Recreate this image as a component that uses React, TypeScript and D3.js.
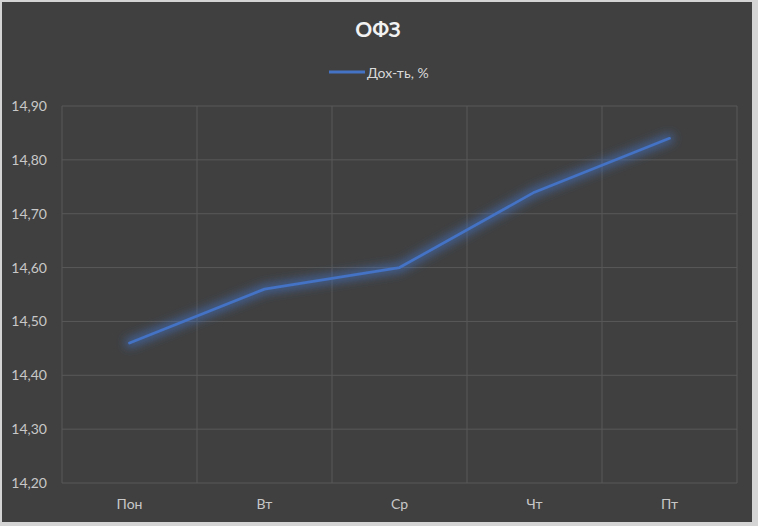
import React from "react";
import * as d3 from "d3";

const categories = ["Пон", "Вт", "Ср", "Чт", "Пт"];
const values = [14.46, 14.56, 14.6, 14.74, 14.84];
const yTicks = [14.2, 14.3, 14.4, 14.5, 14.6, 14.7, 14.8, 14.9];
const title = "ОФЗ";
const seriesName = "Дох-ть, %";

const W = 758;
const H = 526;
const plot = { left: 62, right: 737, top: 106, bottom: 483 };
const font = "Lato, 'Open Sans', sans-serif";

export default function App() {
  const x = d3
    .scaleBand<string>()
    .domain(categories)
    .range([plot.left, plot.right])
    .padding(0);
  const y = d3.scaleLinear().domain([14.2, 14.9]).range([plot.bottom, plot.top]);
  const line = d3
    .line<number>()
    .x((_, i) => (x(categories[i]) as number) + x.bandwidth() / 2)
    .y((d) => y(d));
  const fmt = (v: number) => v.toFixed(2).replace(".", ",");
  const bounds = categories.map((c) => x(c) as number).concat([plot.right]);

  return (
    <svg
      width={W}
      height={H}
      style={{ position: "absolute", left: 0, top: 0, display: "block" }}
    >
      <defs>
        <filter id="glow" x="-20%" y="-50%" width="140%" height="200%">
          <feGaussianBlur stdDeviation="5" />
        </filter>
      </defs>
      <rect x={0} y={0} width={W} height={H} fill="#d4d4d4" />
      <rect x={2} y={2} width={750} height={520} fill="#404040" />
      <text
        x={378}
        y={37}
        textAnchor="middle"
        fill="#f2f2f2"
        fontFamily={font}
        fontWeight="bold"
        fontSize={21}
      >
        {title}
      </text>
      <line x1={329} x2={365} y1={72} y2={72} stroke="#4472c4" strokeWidth={3} />
      <text x={367} y={78} fill="#d9d9d9" fontFamily={font} fontSize={14}>
        {seriesName}
      </text>
      {yTicks.map((t) => (
        <g key={t}>
          <line
            x1={plot.left}
            x2={plot.right}
            y1={y(t)}
            y2={y(t)}
            stroke="#595959"
            strokeWidth={1}
          />
          <text
            x={47}
            y={y(t) + 5}
            textAnchor="end"
            fill="#c8c8c8"
            fontFamily={font}
            fontSize={14}
          >
            {fmt(t)}
          </text>
        </g>
      ))}
      {bounds.map((b, i) => (
        <line
          key={i}
          x1={b}
          x2={b}
          y1={plot.top}
          y2={plot.bottom}
          stroke="#595959"
          strokeWidth={1}
        />
      ))}
      {categories.map((c) => (
        <text
          key={c}
          x={(x(c) as number) + x.bandwidth() / 2}
          y={509}
          textAnchor="middle"
          fill="#c8c8c8"
          fontFamily={font}
          fontSize={14}
        >
          {c}
        </text>
      ))}
      <path
        d={line(values) || ""}
        fill="none"
        stroke="#4472c4"
        strokeWidth={9}
        strokeOpacity={0.65}
        strokeLinecap="round"
        filter="url(#glow)"
      />
      <path
        d={line(values) || ""}
        fill="none"
        stroke="#4472c4"
        strokeWidth={2.75}
        strokeLinecap="round"
        strokeLinejoin="round"
      />
    </svg>
  );
}
